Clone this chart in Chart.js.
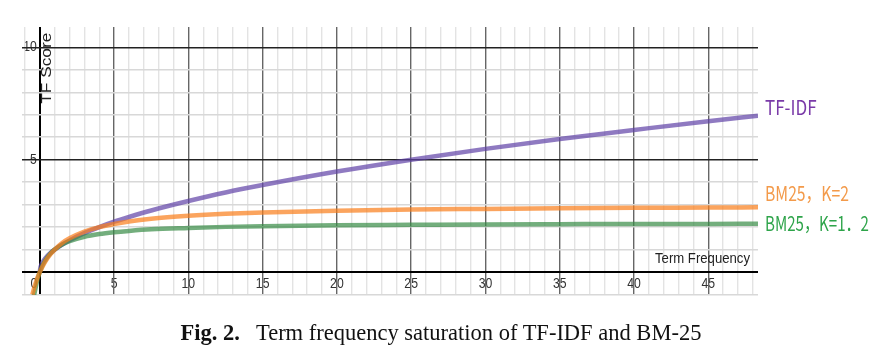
<!DOCTYPE html>
<html>
<head>
<meta charset="utf-8">
<script src="https://cdn.jsdelivr.net/npm/chart.js@4/dist/chart.umd.min.js"></script>
<style>
  html, body { margin: 0; padding: 0; background: #fff; }
  #wrap { position: relative; width: 882px; height: 357px; overflow: hidden; }
  #c { position: absolute; left: 0; top: 0; }
  #cap { position: absolute; left: 0; top: 322px; width: 882px; text-align: center; line-height: 1;
         font-family: "Liberation Serif", "Times New Roman", serif; font-size: 22.5px; color: #111; white-space: pre; }
  #cap b { font-weight: bold; margin-right: 16px; }
</style>
</head>
<body>
<div id="wrap">
  <canvas id="c" width="882" height="357"></canvas>
  <div id="cap"><b>Fig. 2.</b>Term frequency saturation of TF-IDF and BM-25</div>
</div>
<script>
// ---- data ----
const termFreq = [0, 0.03, 0.1, 0.25, 0.5, 0.75, 1, 1.5, 2, 3, 4, 5, 6, 7.5, 10, 12.5, 15, 20, 25, 30, 35, 40, 45, 48.35];
const tfidfScore = [0, 0.17, 0.32, 0.5, 0.71, 0.87, 1, 1.22, 1.41, 1.73, 2, 2.24, 2.45, 2.74, 3.16, 3.54, 3.87, 4.47, 5, 5.48, 5.92, 6.32, 6.71, 6.95];
const bm25K2Score = [0, 0.044, 0.14, 0.33, 0.6, 0.82, 1, 1.29, 1.5, 1.8, 2, 2.14, 2.25, 2.37, 2.5, 2.59, 2.65, 2.73, 2.78, 2.81, 2.84, 2.86, 2.87, 2.88];
const bm25K12Score = [0, 0.054, 0.17, 0.38, 0.65, 0.85, 1, 1.22, 1.375, 1.57, 1.69, 1.77, 1.83, 1.9, 1.96, 2.01, 2.04, 2.08, 2.1, 2.12, 2.13, 2.14, 2.14, 2.15];
// left branch (below zero) of the BM25 curves
const negFreq = [-0.5, -0.35, -0.2, -0.1];
const bm25K2Neg = [-1.0, -0.64, -0.33, -0.16];
const bm25K12Neg = [-1.32, -0.91, -0.44, -0.2];

const seriesNames = ["TF-IDF", "BM25，K=2", "BM25，K=1．2"];
const xTickLabels = ["0", "5", "10", "15", "20", "25", "30", "35", "40", "45"];
const yTickLabels = ["5", "10"];
const xTitle = "Term Frequency";
const yTitle = "TF Score";

function pts(xs, ys) { return xs.map((x, i) => ({ x: x, y: ys[i] })); }

const lineColors = ["rgba(96,66,166,0.7)", "rgba(250,126,25,0.7)", "rgba(56,140,70,0.7)"];
const textColors = ["#7a3aa8", "#f39a4a", "#2ea44a"];

const overlay = {
  id: 'overlay',
  beforeDraw(chart) {
    const ctx = chart.ctx, xs = chart.scales.x, ys = chart.scales.y;
    const x0 = xs.getPixelForValue(0), y0 = ys.getPixelForValue(0);
    ctx.save();
    ctx.fillStyle = '#333';
    ctx.font = '14px "Liberation Sans Narrow", "Arial Narrow", "Liberation Sans", sans-serif';
    ctx.textBaseline = 'middle';
    ctx.textAlign = 'center';
    xTickLabels.forEach(l => {
      const v = Number(l);
      let px = xs.getPixelForValue(v);
      if (v === 0) px -= 6;
      ctx.fillText(l, px, y0 + 12, l.length * 6.8);
    });
    ctx.textAlign = 'right';
    yTickLabels.forEach(l => {
      const v = Number(l);
      ctx.fillText(l, x0 - 3, ys.getPixelForValue(v), l.length * 6.8);
    });
    ctx.restore();
  },
  afterDraw(chart) {
    const ctx = chart.ctx, xs = chart.scales.x, ys = chart.scales.y;
    const x0 = xs.getPixelForValue(0), y0 = ys.getPixelForValue(0);
    ctx.save();
    // axis titles
    ctx.fillStyle = '#222';
    ctx.font = '15px "Liberation Sans", Arial, sans-serif';
    ctx.save();
    ctx.translate(x0 + 7, ys.getPixelForValue(10) + 21);
    ctx.rotate(-Math.PI / 2);
    ctx.scale(1.15, 1);
    ctx.textAlign = 'center';
    ctx.textBaseline = 'middle';
    ctx.fillText(yTitle, 0, 0);
    ctx.restore();
    ctx.font = '15px "Liberation Sans Narrow", "Arial Narrow", "Liberation Sans", sans-serif';
    ctx.textAlign = 'right';
    ctx.textBaseline = 'alphabetic';
    ctx.fillText(xTitle, chart.chartArea.right - 8, y0 - 9, 95);
    // series labels at the right
    const ends = [tfidfScore, bm25K2Score, bm25K12Score].map(a => ys.getPixelForValue(a[a.length - 1]));
    const offs = [-0.5, -6.5, 7];
    const maxW = [60, 84, 104];
    ctx.font = '17px "Noto Sans CJK JP", sans-serif';
    ctx.textAlign = 'left';
    ctx.textBaseline = 'alphabetic';
    seriesNames.forEach((n, i) => {
      ctx.save();
      ctx.translate(chart.chartArea.right + 7, ends[i] + offs[i]);
      ctx.scale(1, 1.22);
      ctx.fillStyle = textColors[i];
      ctx.fillText(n, 0, 0, maxW[i]);
      ctx.restore();
    });
    ctx.restore();
  }
};

const common = { pointRadius: 0, borderWidth: 4.5, fill: false, showLine: true,
                 cubicInterpolationMode: 'monotone', clip: 0 };

new Chart(document.getElementById('c'), {
  type: 'scatter',
  data: {
    datasets: [
      Object.assign({ label: seriesNames[1], data: pts(negFreq.concat(termFreq), bm25K2Neg.concat(bm25K2Score)),
        borderColor: lineColors[1], order: 1 }, common),
      Object.assign({ label: seriesNames[2], data: pts(negFreq.concat(termFreq), bm25K12Neg.concat(bm25K12Score)),
        borderColor: lineColors[2], order: 2 }, common),
      Object.assign({ label: seriesNames[0], data: pts(termFreq, tfidfScore),
        borderColor: lineColors[0], order: 3 }, common)
    ]
  },
  options: {
    responsive: false,
    animation: false,
    events: [],
    layout: { padding: { left: 22, top: 27, right: 124, bottom: 62 } },
    plugins: { legend: { display: false }, tooltip: { enabled: false } },
    scales: {
      x: {
        type: 'linear', min: -1.2, max: 48.35,
        border: { display: false },
        ticks: { display: false, stepSize: 1, includeBounds: false, autoSkip: false },
        grid: {
          drawTicks: false,
          color: c => { const v = c.tick.value; return v === 0 ? '#000' : (v % 5 === 0 ? '#666' : '#e3e3e3'); },
          lineWidth: c => { const v = c.tick.value; return v === 0 ? 2 : 1.4; }
        }
      },
      y: {
        type: 'linear', min: -1.02, max: 10.9,
        border: { display: false },
        ticks: { display: false, stepSize: 1, includeBounds: false, autoSkip: false },
        grid: {
          drawTicks: false,
          color: c => { const v = c.tick.value; return v === 0 ? '#000' : (v % 5 === 0 ? '#222' : '#d8d8d8'); },
          lineWidth: c => { const v = c.tick.value; return v === 0 ? 2 : 1.4; }
        }
      }
    }
  },
  plugins: [overlay]
});
</script>
</body>
</html>
